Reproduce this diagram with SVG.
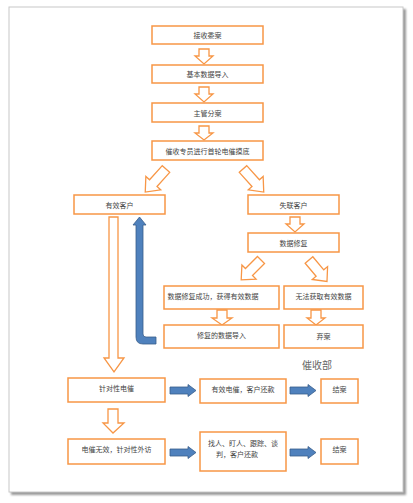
<svg xmlns="http://www.w3.org/2000/svg" width="413" height="503" viewBox="0 0 413 503">
<defs>
<style>
.box{fill:#fff;stroke:#F79646;stroke-width:1.5}
.harr{fill:#fff;stroke:#F79646;stroke-width:1.3;stroke-linejoin:miter}
.barr{fill:#4F81BD;stroke:#385D8A;stroke-width:0.8}
.t{font-family:"Noto Sans CJK SC","Noto Sans CJK JP",sans-serif;font-size:7px;fill:#444;text-anchor:middle;dominant-baseline:central}
.lbl{font-family:"Noto Sans CJK SC","Noto Sans CJK JP",sans-serif;font-size:10px;fill:#666;text-anchor:middle;dominant-baseline:central}
</style>
<filter id="sh" x="-5%" y="-5%" width="110%" height="110%"><feGaussianBlur stdDeviation="1.2"/></filter>
</defs>
<rect x="0" y="0" width="413" height="503" fill="#fff"/>
<rect x="11" y="9" width="395" height="486" fill="#999" filter="url(#sh)"/>
<rect x="9" y="7" width="394" height="485" fill="#fff" stroke="#c8c8c8" stroke-width="1"/>

<g id="connectors">
<path class="harr" d="M199,49 H209 V56 H213 L204,64 L195,56 H199 Z"/>
<path class="harr" d="M199,87 H209 V94 H213 L204,102 L195,94 H199 Z"/>
<path class="harr" d="M199,126 H209 V133 H213 L204,140 L195,133 H199 Z"/>
<path class="harr" transform="translate(166,169) rotate(42)" d="M-5,0 H5 V19 H10 L0,31 L-10,19 H-5 Z"/>
<path class="harr" transform="translate(243,169) rotate(-42)" d="M-5,0 H5 V19 H10 L0,31 L-10,19 H-5 Z"/>
<path class="harr" d="M290,217 H300 V224 H304 L295,232 L286,224 H290 Z"/>
<path class="harr" transform="translate(261,260) rotate(45)" d="M-5,0 H5 V17 H10 L0,28 L-10,17 H-5 Z"/>
<path class="harr" transform="translate(309,260) rotate(-40)" d="M-5,0 H5 V17 H10 L0,28 L-10,17 H-5 Z"/>
<path class="harr" d="M217,310 H227 V318 H232 L222,325 L212,318 H217 Z"/>
<path class="harr" d="M311,310 H321 V318 H325 L316,325 L307,318 H311 Z"/>
<path class="harr" d="M109,217 H118 V358 H124 L114,372 L104,358 H109 Z"/>
<path class="harr" d="M108,409 H118 V423 H124 L113,433 L103,423 H108 Z"/>
<path class="barr" d="M143,225 V334 Q143,337 146,337 H156 V344 H143 Q136,344 136,337 V225 H133 L139.5,217 L146,225 Z"/>
<path class="barr" d="M170,387 H188 V384.5 L196,390.5 L188,396.5 V394 H170 Z"/>
<path class="barr" d="M290,387 H308 V384.5 L316,390.5 L308,396.5 V394 H290 Z"/>
<path class="barr" d="M170,449 H188 V446.5 L196,452.5 L188,458.5 V456 H170 Z"/>
<path class="barr" d="M290,449 H308 V446.5 L316,452.5 L308,458.5 V456 H290 Z"/>
</g>

<g id="n1"><rect class="box" x="152" y="26" width="111" height="18"/><text class="t" x="207.5" y="35">接收委案</text></g>
<g id="n2"><rect class="box" x="152" y="65" width="111" height="18"/><text class="t" x="207.5" y="74">基本数据导入</text></g>
<g id="n3"><rect class="box" x="152" y="103" width="111" height="19"/><text class="t" x="207.5" y="112.5">主管分案</text></g>
<g id="n4"><rect class="box" x="152" y="141" width="111" height="19"/><text class="t" x="207.5" y="150.5">催收专员进行首轮电催摸底</text></g>
<g id="n5"><rect class="box" x="74" y="195" width="91" height="19"/><text class="t" x="119.5" y="204.5">有效客户</text></g>
<g id="n6"><rect class="box" x="248" y="195" width="91" height="19"/><text class="t" x="293.5" y="204.5">失联客户</text></g>
<g id="n7"><rect class="box" x="248" y="233" width="91" height="19"/><text class="t" x="293.5" y="242.5">数据修复</text></g>
<g id="n8"><rect class="box" x="164" y="286" width="115" height="23"/><text class="t" x="213" y="296">数据修复成功，获得有效数据</text></g>
<g id="n9"><rect class="box" x="284" y="286" width="79" height="23"/><text class="t" x="323.5" y="296">无法获取有效数据</text></g>
<g id="n10"><rect class="box" x="164" y="325" width="115" height="23"/><text class="t" x="221.5" y="335">修复的数据导入</text></g>
<g id="n11"><rect class="box" x="284" y="325" width="79" height="23"/><text class="t" x="323.5" y="336">弃案</text></g>
<g id="lbl"><text class="lbl" x="317" y="364">催收部</text></g>
<g id="n12"><rect class="box" x="68" y="378" width="97" height="24"/><text class="t" x="116.5" y="388">针对性电催</text></g>
<g id="n13"><rect class="box" x="200" y="379" width="86" height="24"/><text class="t" x="243" y="389">有效电催，客户还款</text></g>
<g id="n14"><rect class="box" x="321" y="379" width="37" height="24"/><text class="t" x="339.5" y="389">结案</text></g>
<g id="n15"><rect class="box" x="68" y="439" width="97" height="25"/><text class="t" x="116.5" y="449">电催无效，针对性外访</text></g>
<g id="n16"><rect class="box" x="200" y="432" width="86" height="39"/><text class="t" x="243" y="443">找人、盯人、跟踪、谈</text><text class="t" x="237" y="454">判，客户还款</text></g>
<g id="n17"><rect class="box" x="321" y="439" width="37" height="25"/><text class="t" x="339.5" y="449">结案</text></g>
</svg>
